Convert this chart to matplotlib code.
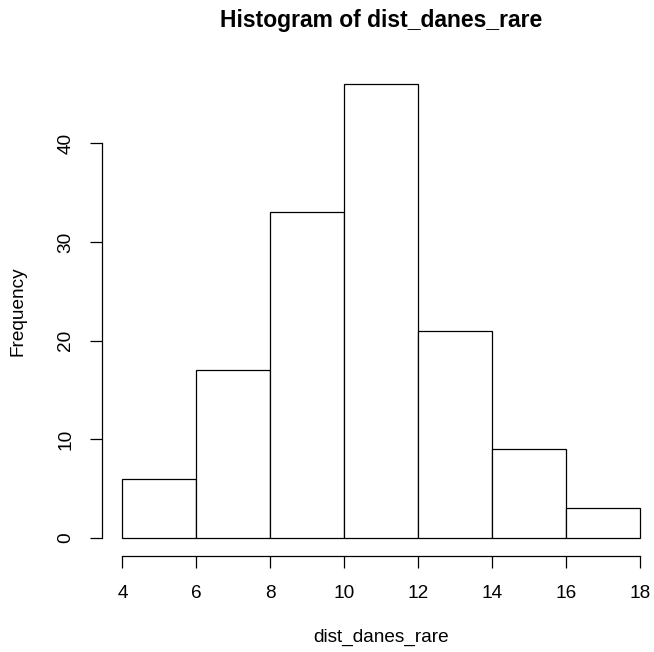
import matplotlib
matplotlib.use("Agg")
import matplotlib.pyplot as plt

# histogram of dist_danes_rare (R base style)
bin_edges = [4, 6, 8, 10, 12, 14, 16, 18]
counts = [6, 17, 33, 46, 21, 9, 3]
x_ticks = [4, 6, 8, 10, 12, 14, 16, 18]
y_ticks = [0, 10, 20, 30, 40]

plt.rcParams['font.family'] = ['Liberation Sans', 'DejaVu Sans']

W, H = 654, 652
fig = plt.figure(figsize=(W / 100, H / 100), dpi=100)

# plot region in pixels (R keeps 4% padding around the data)
left_px, right_px = 101.7, 661.0
top_px, bottom_px = 66.0, 556.0
ax = fig.add_axes([left_px / W, 1 - bottom_px / H,
                   (right_px - left_px) / W, (bottom_px - top_px) / H])

xmin, xmax = bin_edges[0], bin_edges[-1]
ymax = max(counts)
ax.set_xlim(xmin - 0.04 * (xmax - xmin), xmax + 0.04 * (xmax - xmin))
ax.set_ylim(-0.04 * ymax, ymax * 1.04)

widths = [b - a for a, b in zip(bin_edges[:-1], bin_edges[1:])]
ax.bar(bin_edges[:-1], counts, width=widths, align='edge',
       facecolor='white', edgecolor='black', linewidth=0.9)

for s in ['top', 'right']:
    ax.spines[s].set_visible(False)
ax.spines['bottom'].set_bounds(x_ticks[0], x_ticks[-1])
ax.spines['left'].set_bounds(y_ticks[0], y_ticks[-1])
for s in ['bottom', 'left']:
    ax.spines[s].set_linewidth(0.9)

fs = 13.7
ax.set_xticks(x_ticks)
ax.set_yticks(y_ticks)
ax.set_xticklabels([str(t) for t in x_ticks])
ax.set_yticklabels([str(t) for t in y_ticks], rotation=90, va='center')
ax.tick_params(axis='both', length=8.6, width=0.9, labelsize=fs)
ax.tick_params(axis='x', pad=12.5)
ax.tick_params(axis='y', pad=11)

cx = (left_px + right_px) / 2 / W
cy = 1 - (top_px + bottom_px) / 2 / H
fig.text(cx, 1 - 21 / H, "Histogram of dist_danes_rare",
         ha='center', va='center', fontsize=fs * 1.2, fontweight='bold')
fig.text(cx, 1 - 637 / H, "dist_danes_rare",
         ha='center', va='center', fontsize=fs)
fig.text(18 / W, cy, "Frequency", rotation=90,
         ha='center', va='center', fontsize=fs)

fig.savefig("out.png", dpi=100)
